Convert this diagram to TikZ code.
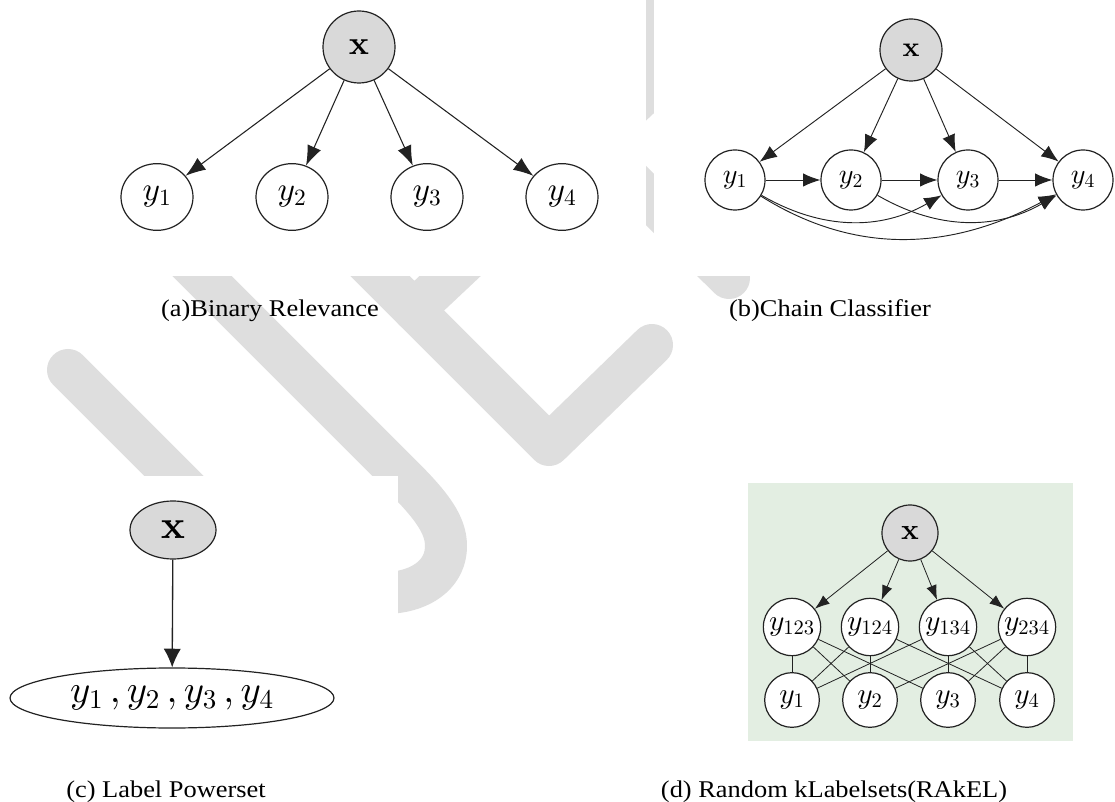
\documentclass[tikz,border=0pt]{standalone}
\usepackage[no-math]{fontspec}
\usepackage{graphicx}
\setmainfont{Liberation Serif}
\DeclareFontShape{OML}{cmm}{m}{it}{<->cmmi10}{}
\DeclareFontShape{OT1}{cmr}{m}{n}{<->cmr10}{}
\DeclareFontShape{OT1}{cmr}{bx}{n}{<->cmbx10}{}
\DeclareFontShape{OMS}{cmsy}{m}{n}{<->cmsy10}{}
\usetikzlibrary{arrows.meta,shapes.geometric}
\definecolor{wmgrey}{HTML}{DEDEDE}
\definecolor{nodegrey}{HTML}{D9D9D9}
\definecolor{boxgreen}{HTML}{E3EEE2}
\definecolor{ink}{HTML}{222222}
\newcommand{\captxt}[1]{\scalebox{1.1}[1]{#1}}
\begin{document}
\begin{tikzpicture}[x=0.75pt,y=0.75pt,
  wm/.style={draw=wmgrey, line width=31.5pt, line cap=round, line join=round},
  cover/.style={fill=white, draw=none},
  vnode/.style={circle, draw=ink, line width=0.9pt, fill=white, inner sep=0pt},
  gnode/.style={vnode, fill=nodegrey},
  arra/.style={draw=ink, line width=0.8pt, -{Latex[length=15pt,width=11pt]}},
  arrb/.style={draw=ink, line width=0.7pt, -{Latex[length=13pt,width=10pt]}},
  arrc/.style={draw=ink, line width=1pt, -{Latex[length=14pt,width=13pt]}},
  arrd/.style={draw=ink, line width=0.6pt, -{Latex[length=11pt,width=8pt]}},
  lnk/.style={draw=ink, line width=0.6pt},
  captionstyle/.style={font=\fontsize{18}{22}\selectfont, inner sep=0pt, anchor=base}
]
\useasboundingbox (0,0) rectangle (1115,-802);
\fill[white] (0,0) rectangle (1115,-802);

% watermark
\draw[wm] (68,-370) -- (300,-602);
\draw[wm] (150,-224) -- (402,-476) .. controls (432,-506) and (446,-525) .. (446,-546) .. controls (446,-572) and (425,-588) .. (398,-592) -- (360,-596);
\draw[wm] (250,-146) -- (549,-445) -- (652,-345);
\draw[wm] (414,-310) -- (650,-88) -- (650,20);
\draw[wm] (560,-110) -- (729,-278);
% image areas covering the watermark
\path[cover] (0,0) rectangle (646,-276);
\path[cover] (654,0) rectangle (1115,-276);
\path[cover] (0,-476) rectangle (398,-802);

% captions
\node[captionstyle] (capa) at (270,-317) {\captxt{(a)Binary Relevance}};
\node[captionstyle] (capb) at (830,-317) {\captxt{(b)Chain Classifier}};
\node[captionstyle] (capc) at (166,-797) {\captxt{(c) Label Powerset}};
\node[captionstyle] (capd) at (834,-797) {\captxt{(d) Random kLabelsets(RAkEL)}};

% (a) Binary relevance
\begin{scope}[every node/.append style={font=\fontsize{25}{30}\selectfont}]
\node[gnode, minimum size=54pt] (ax) at (359,-47) {$\mathbf{x}$};
\node[vnode, ellipse, minimum width=54pt, minimum height=50pt] (ay1) at (157,-197) {$y_1$};
\node[vnode, ellipse, minimum width=54pt, minimum height=50pt] (ay2) at (292,-197) {$y_2$};
\node[vnode, ellipse, minimum width=54pt, minimum height=50pt] (ay3) at (427,-197) {$y_3$};
\node[vnode, ellipse, minimum width=54pt, minimum height=50pt] (ay4) at (562,-197) {$y_4$};
\end{scope}
\foreach \t in {ay1,ay2,ay3,ay4} \draw[arra] (ax) -- (\t);

% (b) Chain classifier
\begin{scope}[every node/.append style={font=\fontsize{21}{25}\selectfont}]
\node[gnode, minimum size=46.5pt] (bx) at (911,-50) {$\mathbf{x}$};
\node[vnode, minimum size=45pt] (by1) at (735,-180) {$y_1$};
\node[vnode, minimum size=45pt] (by2) at (851,-180) {$y_2$};
\node[vnode, minimum size=45pt] (by3) at (968,-180) {$y_3$};
\node[vnode, minimum size=45pt] (by4) at (1083,-180) {$y_4$};
\end{scope}
\foreach \t in {by1,by2,by3,by4} \draw[arrb] (bx) -- (\t);
\draw[arrb] (by1) -- (by2);
\draw[arrb] (by2) -- (by3);
\draw[arrb] (by3) -- (by4);
\draw[arrb] (by1) to[out=-30,in=-150] (by3);
\draw[arrb] (by2) to[out=-30,in=-150] (by4);
\draw[arrb] (by1) to[out=-32,in=-152] (by4);

% (c) Label powerset
\node[gnode, ellipse, minimum width=64.5pt, minimum height=43.5pt, font=\fontsize{30}{34}\selectfont] (cx) at (173,-530) {$\mathbf{x}$};
\node[vnode, ellipse, minimum width=243pt, minimum height=45pt, font=\fontsize{29}{33}\selectfont] (cy) at (172,-698) {$y_1\,, y_2\,, y_3\,, y_4$};
\draw[arrc] (cx) -- (cy);

% (d) RAkEL
\fill[boxgreen] (748,-483) rectangle (1073,-741);
\begin{scope}[every node/.append style={font=\fontsize{22}{26}\selectfont}]
\node[gnode, minimum size=42pt] (dx) at (910,-533) {$\mathbf{x}$};
\node[vnode, minimum size=43pt] (d123) at (792,-627) {$y_{123}$};
\node[vnode, minimum size=43pt] (d124) at (870,-627) {$y_{124}$};
\node[vnode, minimum size=43pt] (d134) at (948,-627) {$y_{134}$};
\node[vnode, minimum size=43pt] (d234) at (1027,-627) {$y_{234}$};
\node[vnode, minimum size=41pt] (d1) at (792,-700) {$y_1$};
\node[vnode, minimum size=41pt] (d2) at (870,-700) {$y_2$};
\node[vnode, minimum size=41pt] (d3) at (948,-700) {$y_3$};
\node[vnode, minimum size=41pt] (d4) at (1027,-700) {$y_4$};
\end{scope}
\foreach \t in {d123,d124,d134,d234} \draw[arrd] (dx) -- (\t);
\foreach \a/\b in {d123/d1,d123/d2,d123/d3,d124/d1,d124/d2,d124/d4,d134/d1,d134/d3,d134/d4,d234/d2,d234/d3,d234/d4}
  \draw[lnk] (\a) -- (\b);
\end{tikzpicture}
\end{document}
